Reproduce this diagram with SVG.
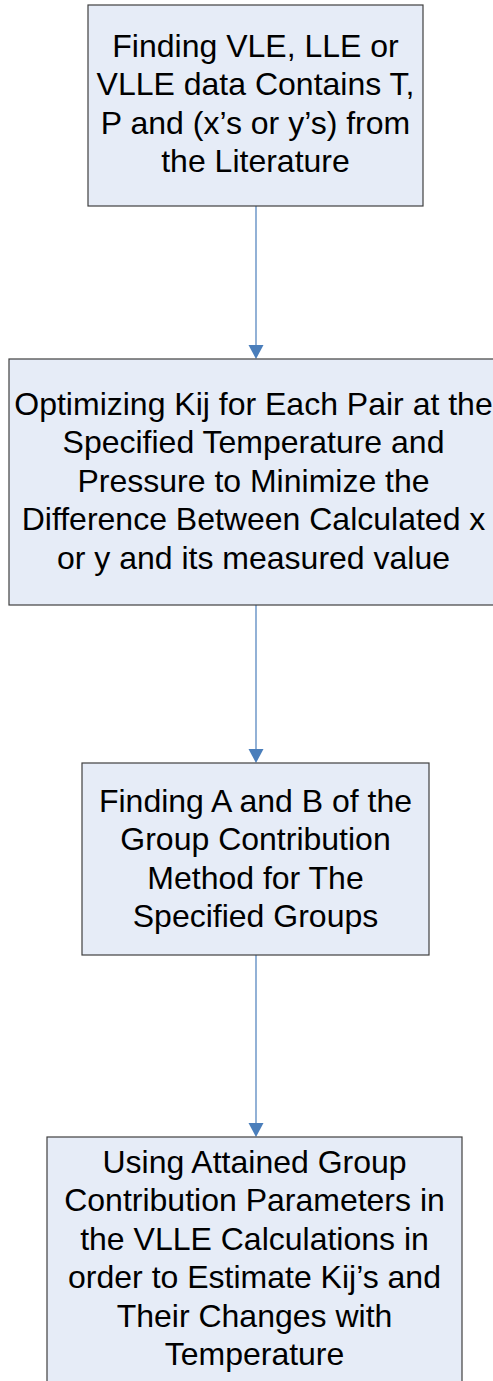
<svg xmlns="http://www.w3.org/2000/svg" width="493" height="1381" viewBox="0 0 493 1381">
<style>
.box{fill:#E6ECF7;stroke:#404040;stroke-width:1.2}
.t{font-family:"Liberation Sans",Arial,sans-serif;font-size:32px;fill:#000;text-anchor:middle}
.c{stroke:#4A7EBB;stroke-width:1.2;fill:none}
.h{fill:#4A7EBB}
</style>
<rect width="493" height="1381" fill="#fff"/>
<g id="connectors">
<line class="c" x1="256" y1="206" x2="256" y2="346"/>
<polygon class="h" points="248.5,345 263.5,345 256,359"/>
<line class="c" x1="256" y1="605" x2="256" y2="750"/>
<polygon class="h" points="248.5,749 263.5,749 256,763"/>
<line class="c" x1="256" y1="955" x2="256" y2="1124"/>
<polygon class="h" points="248.5,1123 263.5,1123 256,1137"/>
</g>
<g id="node1">
<rect class="box" x="88" y="5" width="335" height="201"/>
<text class="t" x="255.5" y="57">Finding VLE, LLE or</text>
<text class="t" x="255.5" y="95.4">VLLE data Contains T,</text>
<text class="t" x="255.5" y="133.8">P and (x’s or y’s) from</text>
<text class="t" x="255.5" y="172.2">the Literature</text>
</g>
<g id="node2">
<rect class="box" x="9" y="359" width="489" height="246"/>
<text class="t" x="253.5" y="415">Optimizing Kij for Each Pair at the</text>
<text class="t" x="253.5" y="453.4">Specified Temperature and</text>
<text class="t" x="253.5" y="491.8">Pressure to Minimize the</text>
<text class="t" x="253.5" y="530.2">Difference Between Calculated x</text>
<text class="t" x="253.5" y="568.6">or y and its measured value</text>
</g>
<g id="node3">
<rect class="box" x="82" y="763" width="347" height="192"/>
<text class="t" x="255.5" y="812">Finding A and B of the</text>
<text class="t" x="255.5" y="850.4">Group Contribution</text>
<text class="t" x="255.5" y="888.8">Method for The</text>
<text class="t" x="255.5" y="927.2">Specified Groups</text>
</g>
<g id="node4">
<rect class="box" x="47" y="1137" width="415" height="260"/>
<text class="t" x="254.5" y="1173">Using Attained Group</text>
<text class="t" x="254.5" y="1211.4">Contribution Parameters in</text>
<text class="t" x="254.5" y="1249.8">the VLLE Calculations in</text>
<text class="t" x="254.5" y="1288.2">order to Estimate Kij’s and</text>
<text class="t" x="254.5" y="1326.6">Their Changes with</text>
<text class="t" x="254.5" y="1365">Temperature</text>
</g>
</svg>
